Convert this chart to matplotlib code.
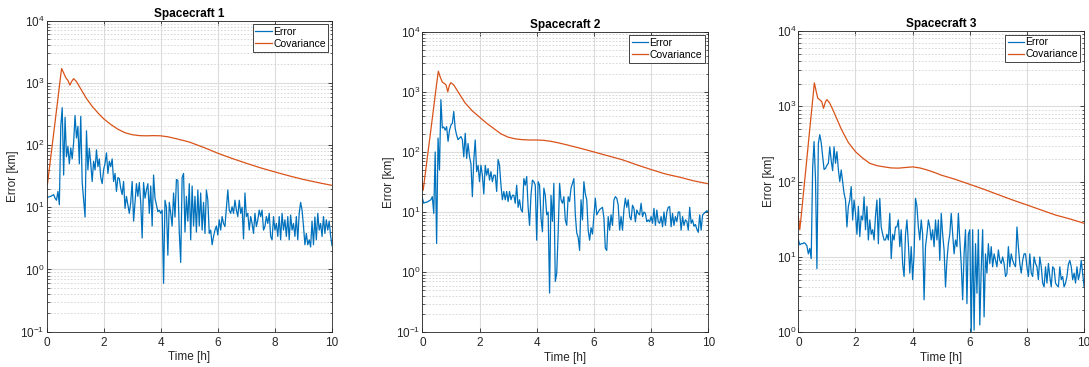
import matplotlib
matplotlib.use("Agg")
import matplotlib.pyplot as plt
import matplotlib.ticker as mticker
import numpy as np

plt.rcParams['font.family'] = ['Liberation Sans', 'DejaVu Sans']
plt.rcParams['mathtext.fontset'] = 'custom'
plt.rcParams['mathtext.rm'] = 'Liberation Sans'
plt.rcParams['mathtext.it'] = 'Liberation Sans:italic'
plt.rcParams['mathtext.bf'] = 'Liberation Sans:bold'

# error samples every 0.05 h from 0 to 10 h
dt_err = 0.05

err1 = [15, 14.5, 14.8, 15, 15.5, 16, 14, 13, 18, 11,
        200, 400, 33, 280, 65, 95, 50, 90, 60, 110,
        300, 130, 200, 50, 290, 25, 13, 7, 170, 40,
        89, 50, 26, 55, 40, 84, 45, 60, 30, 24,
        40, 51, 75, 35, 55, 45, 60, 26, 35, 18,
        30, 29, 20, 16, 26, 9.6, 15, 11, 8, 12,
        26, 6, 12, 24, 15, 25, 12, 3.2, 25, 14,
        19, 24, 8, 22, 5, 33, 14, 11, 8.5, 9,
        8, 9, 0.6, 13, 10, 1.7, 12, 8, 5, 17,
        7, 28, 27, 4, 1.3, 30, 35, 4, 15, 6,
        24, 3, 22, 5, 15, 4, 19, 5, 17, 4.3,
        12, 3.8, 19, 13, 3.8, 4.3, 2.5, 3.4, 4.3, 5,
        3.6, 6.3, 4.3, 7.1, 5.5, 4.9, 9.5, 19, 9, 8,
        10.2, 8, 13, 9, 7.1, 13, 8, 10, 3.1, 17,
        7.1, 8, 4.3, 7.1, 5.5, 3.8, 8, 4.9, 6.3, 9,
        7.1, 9, 4.3, 4.9, 7.1, 5.5, 8, 3.4, 3, 7.1,
        4.3, 5.5, 3.4, 7.1, 3, 8, 4.3, 6.3, 3.4, 7.1,
        3, 7.5, 4.3, 5.5, 3.4, 7.1, 3, 8, 12, 9,
        5, 2.5, 3.8, 2.5, 3, 2.3, 6, 2.5, 7, 3,
        8, 4.3, 5.5, 3.4, 7.1, 3.8, 6.3, 4.3, 6, 3.5,
        2.4]

err2 = [17, 14, 14.5, 14.5, 15, 15.5, 16, 18, 9.5, 100,
        3, 170, 50, 740, 250, 260, 230, 263, 150, 230,
        280, 300, 470, 245, 190, 160, 170, 180, 160, 83,
        205, 78, 138, 83, 64, 18, 73, 158, 47, 60,
        32, 60, 41, 20, 60, 41, 53, 34, 47, 32,
        41, 41, 22, 75, 60, 28, 16, 22, 16, 22,
        15, 22, 16, 19, 19, 14, 28, 12, 16, 11,
        10, 36, 28, 39, 12, 6, 19, 34, 32, 28,
        3.4, 32, 28, 8, 4.7, 25, 19, 9, 10, 0.45,
        19, 7, 30, 0.7, 0.96, 4.5, 30, 16, 14, 18,
        7.4, 6, 18, 15, 25, 30, 36, 9, 4.5, 3.8,
        2.3, 16, 7.4, 32, 20, 16, 5, 3.4, 5.5, 4.3,
        8.4, 17, 9, 10, 11, 11.5, 12, 8, 2.5, 2.3,
        8.4, 5, 9, 6, 15.8, 18, 17, 13, 5, 8.4,
        5, 11, 17, 12, 16, 8.4, 7.4, 13, 11.5, 6.9,
        10.8, 9.5, 9, 14, 8.4, 10, 9.5, 6.9, 7.4, 6.9,
        8.4, 6.5, 11.5, 6, 10.8, 6.9, 6.5, 8.4, 5.7, 10,
        6, 10, 12, 12.3, 5.7, 9.5, 6, 8.4, 6.9, 10,
        10, 5, 8.4, 6, 7.4, 7, 5, 12, 6.5, 7.4,
        5.8, 6.2, 5.2, 4.6, 9, 5, 9, 9.5, 10, 10.5,
        10]

err3 = [17, 14.5, 15, 15, 15.5, 15, 14, 11, 13, 9.5,
        150, 340, 110, 7, 320, 420, 330, 220, 145, 150,
        165, 175, 290, 190, 140, 290, 175, 250, 145, 100,
        143, 100, 70, 57, 25, 47, 57, 86, 31, 57,
        38, 20, 47, 18.6, 35, 31, 63, 23, 47, 16.8,
        31, 20, 23, 16.8, 35, 57, 15, 60, 25, 20,
        16.8, 16.8, 20, 16.8, 38, 9.5, 20, 16.8, 25, 25,
        31, 13.7, 23, 8, 5.5, 20, 31, 15, 6.1, 13.7,
        5, 11, 60, 47, 25, 16.8, 31, 20, 2.7, 13.7,
        20, 31, 25, 16.8, 23, 13.7, 31, 16.8, 31, 9,
        38, 20, 12.4, 4, 9, 15, 20, 38, 20, 11,
        16.8, 13.7, 38, 16.8, 8, 2.7, 11, 23, 2.4, 20,
        23, 0.95, 23, 1.07, 15, 3.3, 23, 1.25, 7, 23,
        1.6, 11, 6.1, 15, 8.2, 13.7, 7.4, 11, 9, 7.4,
        12.4, 9, 8.2, 10, 8.2, 5.5, 6, 13.7, 7.4, 11,
        9, 8, 7.4, 25, 13.7, 8.2, 6.1, 9, 11, 11,
        7.4, 5.5, 11, 6.1, 5.5, 10, 8.2, 7.4, 5, 10,
        7.4, 4.5, 4, 7.4, 4.5, 8.2, 5.5, 4, 7.4, 7,
        4.5, 4.2, 4, 7.4, 5, 5.5, 4, 4.5, 5.5, 8,
        9, 7.4, 5, 6.1, 4.5, 7.4, 5, 6.1, 9, 6,
        4]

# covariance (smooth curves), read at these times
t_cov1 = [0, 0.03, 0.1, 0.2, 0.3, 0.4, 0.5, 0.53, 0.6, 0.68, 0.75, 0.82, 0.88, 0.95,
          1.05, 1.2, 1.4, 1.6, 1.8, 2.0, 2.25, 2.5, 2.75, 3.0, 3.25, 3.5, 3.75, 4.0,
          4.25, 4.5, 4.75, 5.0, 5.5, 6.0, 6.5, 7.0, 7.5, 8.0, 8.5, 9.0, 9.5, 10.0]
cov1 = [32, 23, 42, 100, 235, 560, 1350, 1700, 1450, 1200, 1100, 920, 1050, 1170,
        1050, 800, 560, 420, 330, 265, 215, 180, 158, 147, 142, 141, 142, 141,
        136, 128, 120, 112, 92, 74, 61, 51, 43, 37, 32, 28, 25, 22.5]

t_cov2 = [0, 0.03, 0.1, 0.2, 0.3, 0.4, 0.5, 0.56, 0.62, 0.7, 0.77, 0.83, 0.89, 0.95,
          1.0, 1.1, 1.25, 1.5, 1.75, 2.0, 2.25, 2.5, 2.75, 3.0, 3.25, 3.5, 3.75, 4.0,
          4.25, 4.5, 4.75, 5.0, 5.5, 6.0, 6.5, 7.0, 7.5, 8.0, 8.5, 9.0, 9.5, 10.0]
cov2 = [30, 23, 42, 100, 235, 560, 1350, 2200, 1800, 1450, 1380, 1300, 1000, 1300,
        1420, 1300, 1000, 650, 480, 380, 300, 245, 200, 176, 165, 160, 158, 158,
        156, 150, 142, 133, 116, 100, 86, 74, 61, 51, 43, 38, 33, 29.5]

t_cov3 = [0, 0.05, 0.1, 0.2, 0.3, 0.4, 0.5, 0.56, 0.62, 0.68, 0.75, 0.82, 0.88, 0.95,
          1.0, 1.1, 1.25, 1.5, 1.75, 2.0, 2.25, 2.5, 2.75, 3.0, 3.25, 3.5, 3.75, 4.0,
          4.25, 4.5, 4.75, 5.0, 5.5, 6.0, 6.5, 7.0, 7.5, 8.0, 8.5, 9.0, 9.5, 10.0]
cov3 = [34, 23, 35, 85, 205, 500, 1200, 2050, 1600, 1280, 1220, 1150, 940, 1150,
        1230, 1100, 830, 500, 330, 250, 205, 175, 163, 157, 152, 151, 154, 157,
        152, 143, 133, 122, 107, 92, 79, 67, 57, 49, 42, 36, 32, 28]

titles = ["Spacecraft 1", "Spacecraft 2", "Spacecraft 3"]
ylims = [(1e-1, 1e4), (1e-1, 1e4), (1e0, 1e4)]

blue = "#0072BD"
orange = "#D95319"
dark = "#262626"

fig = plt.figure(figsize=(10.89, 3.67), dpi=100)
# axes boxes [left, bottom, width, height] in figure fraction
boxes = [[0.0427, 0.0962, 0.2622, 0.8474],
         [0.3878, 0.0946, 0.2626, 0.8190],
         [0.7331, 0.0946, 0.2624, 0.8210]]

errs = [err1, err2, err3]
t_covs = [t_cov1, t_cov2, t_cov3]
covs = [cov1, cov2, cov3]

for i in range(3):
    ax = fig.add_axes(boxes[i])
    t_err = np.arange(len(errs[i])) * dt_err
    ax.plot(t_err, errs[i], color=blue, lw=0.9, label="Error")
    ax.plot(t_covs[i], covs[i], color=orange, lw=0.9, label="Covariance")
    ax.set_yscale("log")
    ax.set_xlim(0, 10)
    ax.set_ylim(*ylims[i])
    ax.set_xticks([0, 2, 4, 6, 8, 10])
    ax.yaxis.set_major_locator(mticker.LogLocator(base=10, numticks=10))
    ax.yaxis.set_minor_locator(mticker.LogLocator(base=10, subs=np.arange(2, 10), numticks=20))
    ax.yaxis.set_minor_formatter(mticker.NullFormatter())

    ax.grid(True, which="major", color="#dcdcdc", lw=0.8, ls="-")
    ax.grid(True, which="minor", axis="y", color="#d2d2d2", lw=0.6, ls=(0, (2, 2)))
    ax.set_axisbelow(True)

    ax.tick_params(which="both", direction="in", top=True, right=True,
                   colors=dark, labelsize=8.5)
    ax.tick_params(which="major", length=3, width=0.6)
    ax.tick_params(which="minor", length=1.8, width=0.5)
    ax.tick_params(axis="y", pad=1.5)
    for sp in ax.spines.values():
        sp.set_color(dark)
        sp.set_linewidth(0.6)

    ax.set_title(titles[i], fontsize=8.5, fontweight="bold", color="black", pad=3)
    ax.set_xlabel("Time [h]", fontsize=8.5, color=dark, labelpad=2)
    ax.set_ylabel("Error [km]", fontsize=8.5, color=dark, labelpad=1)

    leg = ax.legend(loc="upper right", fontsize=7.5, fancybox=False, framealpha=1,
                    edgecolor=dark, borderaxespad=0.35, handlelength=1.6,
                    handletextpad=0.1, borderpad=0.25, labelspacing=0.2)
    leg.get_frame().set_linewidth(0.6)

fig.savefig("out.png", dpi=100)
